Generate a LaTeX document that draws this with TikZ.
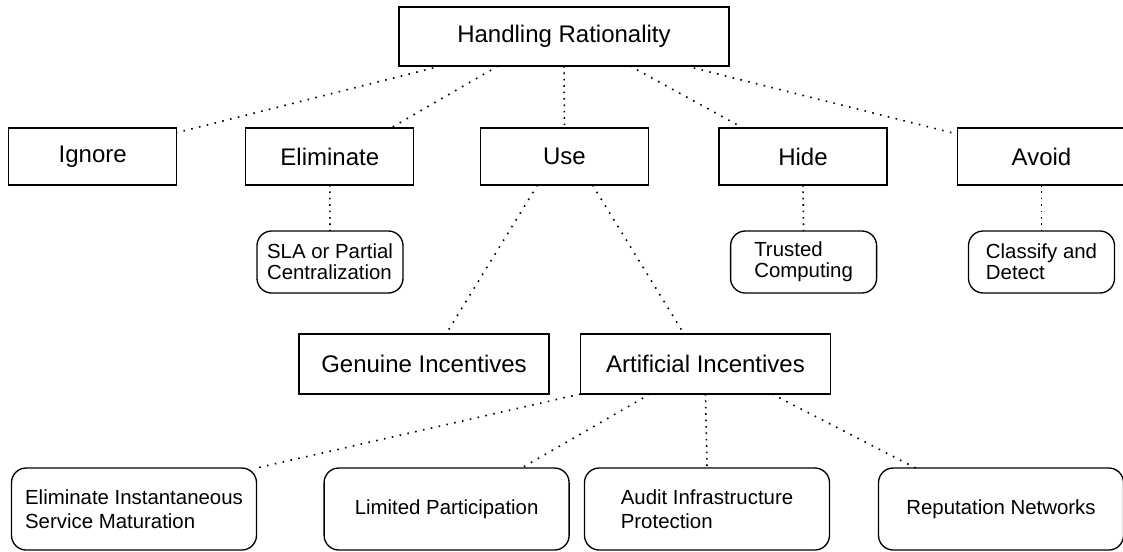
\documentclass[tikz,border=0pt]{standalone}
\usepackage{fontspec}
\setmainfont{Liberation Sans}
\begin{document}
\begin{tikzpicture}[x=0.75pt,y=-0.75pt,
  every node/.style={inner sep=0pt, outer sep=0pt},
  topbox/.style={draw, line width=1pt, font=\fontsize{18}{21}\selectfont},
  catbox/.style={topbox, minimum width=126pt, minimum height=42.75pt},
  midbox/.style={topbox, minimum width=187.5pt, minimum height=45pt},
  leafbox/.style={draw, line width=1pt, rounded corners=11pt, align=left,
    font=\fontsize{15.3}{15.75}\selectfont, minimum width=109.5pt, minimum height=46.5pt},
  bottombox/.style={draw, line width=1pt, rounded corners=11pt, align=left,
    font=\fontsize{15.3}{18}\selectfont, minimum width=183.75pt, minimum height=61.5pt},
  link/.style={line width=1.2pt, dash pattern=on 1.2pt off 4.8pt},
  vlink/.style={line width=1.2pt, dash pattern=on 1.2pt off 3.6pt}
]
\useasboundingbox (0,0) rectangle (1123,551);

% root
\node[topbox, minimum width=247.5pt, minimum height=44.25pt] (hr) at (564,36.5) {Handling Rationality};

% first level
\node[catbox] (ignore) at (92.7,156.5)  {Ignore};
\node[catbox] (elim)   at (329.8,156.5) {Eliminate};
\node[catbox] (use)    at (564.5,156.5) {Use};
\node[catbox] (hide)   at (803,156.5)   {Hide};
\node[catbox] (avoid)  at (1041.5,156.5) {Avoid};

% leaves of the first level
\node[leafbox] (sla)      at (330,262)    {SLA or Partial\\Centralization};
\node[leafbox] (trusted)  at (803.6,262)  {Trusted\\Computing};
\node[leafbox] (classify) at (1041.5,262) {Classify and\\Detect};

% incentives
\node[midbox] (genuine)    at (424,364)   {Genuine Incentives};
\node[midbox] (artificial) at (705.5,364) {Artificial Incentives};

% artificial incentive mechanisms
\node[bottombox] (eism)    at (134,509)   {Eliminate Instantaneous\\Service Maturation};
\node[bottombox] (limited) at (446.6,509) {Limited Participation};
\node[bottombox] (audit)   at (707,509)   {Audit Infrastructure\\Protection};
\node[bottombox] (rep)     at (1001,509)  {Reputation Networks};

% connectors
\draw[link] ([xshift=-92.25pt]hr.south) -- ([yshift=-3.5pt]ignore.north east);
\draw[link] ([xshift=-49.5pt]hr.south) -- ([xshift=45.75pt]elim.north);
\draw[vlink] (hr.south) -- (use.north);
\draw[link] ([xshift=49.5pt]hr.south) -- ([xshift=-45pt]hide.north);
\draw[link] ([xshift=91.5pt]hr.south) -- ([xshift=-4.5pt,yshift=-3.5pt]avoid.north west);

\draw[vlink] (elim.south) -- (sla.north);
\draw[vlink] (hide.south) -- (trusted.north);
\draw[vlink] (avoid.south) -- (classify.north);

\draw[link] ([xshift=-20.25pt]use.south) -- ([xshift=16.5pt]genuine.north);
\draw[link] ([xshift=21pt]use.south) -- ([xshift=-16.1pt]artificial.north);

\draw[link] (artificial.south west) -- (eism.north east);
\draw[link] ([xshift=-41.6pt]artificial.south) -- ([xshift=56.25pt]limited.north);
\draw[vlink] (artificial.south) -- (audit.north);
\draw[link] ([xshift=49.9pt]artificial.south) -- ([xshift=-64.1pt]rep.north);
\end{tikzpicture}
\end{document}
